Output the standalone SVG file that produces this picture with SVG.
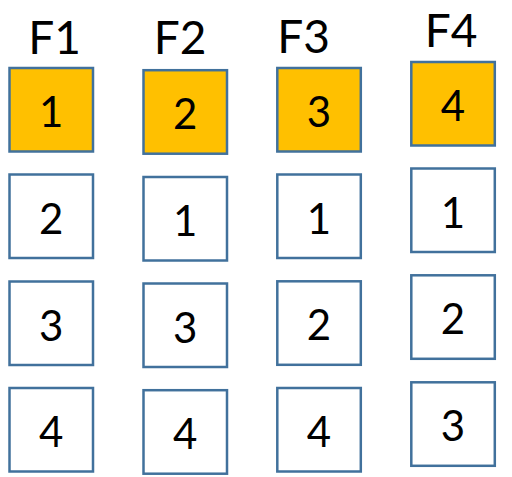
<svg xmlns="http://www.w3.org/2000/svg" width="512" height="477" viewBox="0 0 512 477">
<style>
.b{fill:#ffffff;stroke:#41719C;stroke-width:2.5}
.o{fill:#FFC000;stroke:#41719C;stroke-width:2.5}
.t{font-family:Lato,"Open Sans",sans-serif;font-size:42px;text-anchor:middle;fill:#000}
.h{font-family:Lato,"Open Sans",sans-serif;font-size:46px;text-anchor:middle;fill:#000}
</style>
<rect width="512" height="477" fill="#fff"/>
<g id="headers">
<text class="h" x="54.5" y="54">F1</text>
<text class="h" x="180" y="54">F2</text>
<text class="h" x="303.5" y="53">F3</text>
<text class="h" x="451" y="47">F4</text>
</g>
<g id="f1-1"><rect class="o" x="9.5" y="68" width="83.5" height="83.5"/><text class="t" x="51.2" y="127">1</text></g>
<g id="f1-2"><rect class="b" x="9.5" y="174.5" width="83.5" height="83.5"/><text class="t" x="51.2" y="233.5">2</text></g>
<g id="f1-3"><rect class="b" x="9.5" y="281.5" width="83.5" height="83.5"/><text class="t" x="51.2" y="340.5">3</text></g>
<g id="f1-4"><rect class="b" x="9.5" y="388" width="83.5" height="83.5"/><text class="t" x="51.2" y="447">4</text></g>
<g id="f2-1"><rect class="o" x="143.5" y="70.2" width="83.5" height="83.5"/><text class="t" x="185.2" y="129">2</text></g>
<g id="f2-2"><rect class="b" x="143.5" y="177" width="83.5" height="83.5"/><text class="t" x="185.2" y="236">1</text></g>
<g id="f2-3"><rect class="b" x="143.5" y="283.5" width="83.5" height="83.5"/><text class="t" x="185.2" y="342.5">3</text></g>
<g id="f2-4"><rect class="b" x="143.5" y="390.2" width="83.5" height="83.5"/><text class="t" x="185.2" y="449">4</text></g>
<g id="f3-1"><rect class="o" x="277.3" y="68" width="83.5" height="83.5"/><text class="t" x="319" y="127">3</text></g>
<g id="f3-2"><rect class="b" x="277.3" y="174.5" width="83.5" height="83.5"/><text class="t" x="319" y="233.5">1</text></g>
<g id="f3-3"><rect class="b" x="277.3" y="281.3" width="83.5" height="83.5"/><text class="t" x="319" y="340.3">2</text></g>
<g id="f3-4"><rect class="b" x="277.3" y="388" width="83.5" height="83.5"/><text class="t" x="319" y="447">4</text></g>
<g id="f4-1"><rect class="o" x="411.3" y="62" width="83.5" height="83.5"/><text class="t" x="453" y="121">4</text></g>
<g id="f4-2"><rect class="b" x="411.3" y="168.5" width="83.5" height="83.5"/><text class="t" x="453" y="227.5">1</text></g>
<g id="f4-3"><rect class="b" x="411.3" y="275.3" width="83.5" height="83.5"/><text class="t" x="453" y="334.3">2</text></g>
<g id="f4-4"><rect class="b" x="411.3" y="382.3" width="83.5" height="83.5"/><text class="t" x="453" y="441.3">3</text></g>
<g id="connectors"/>
</svg>
